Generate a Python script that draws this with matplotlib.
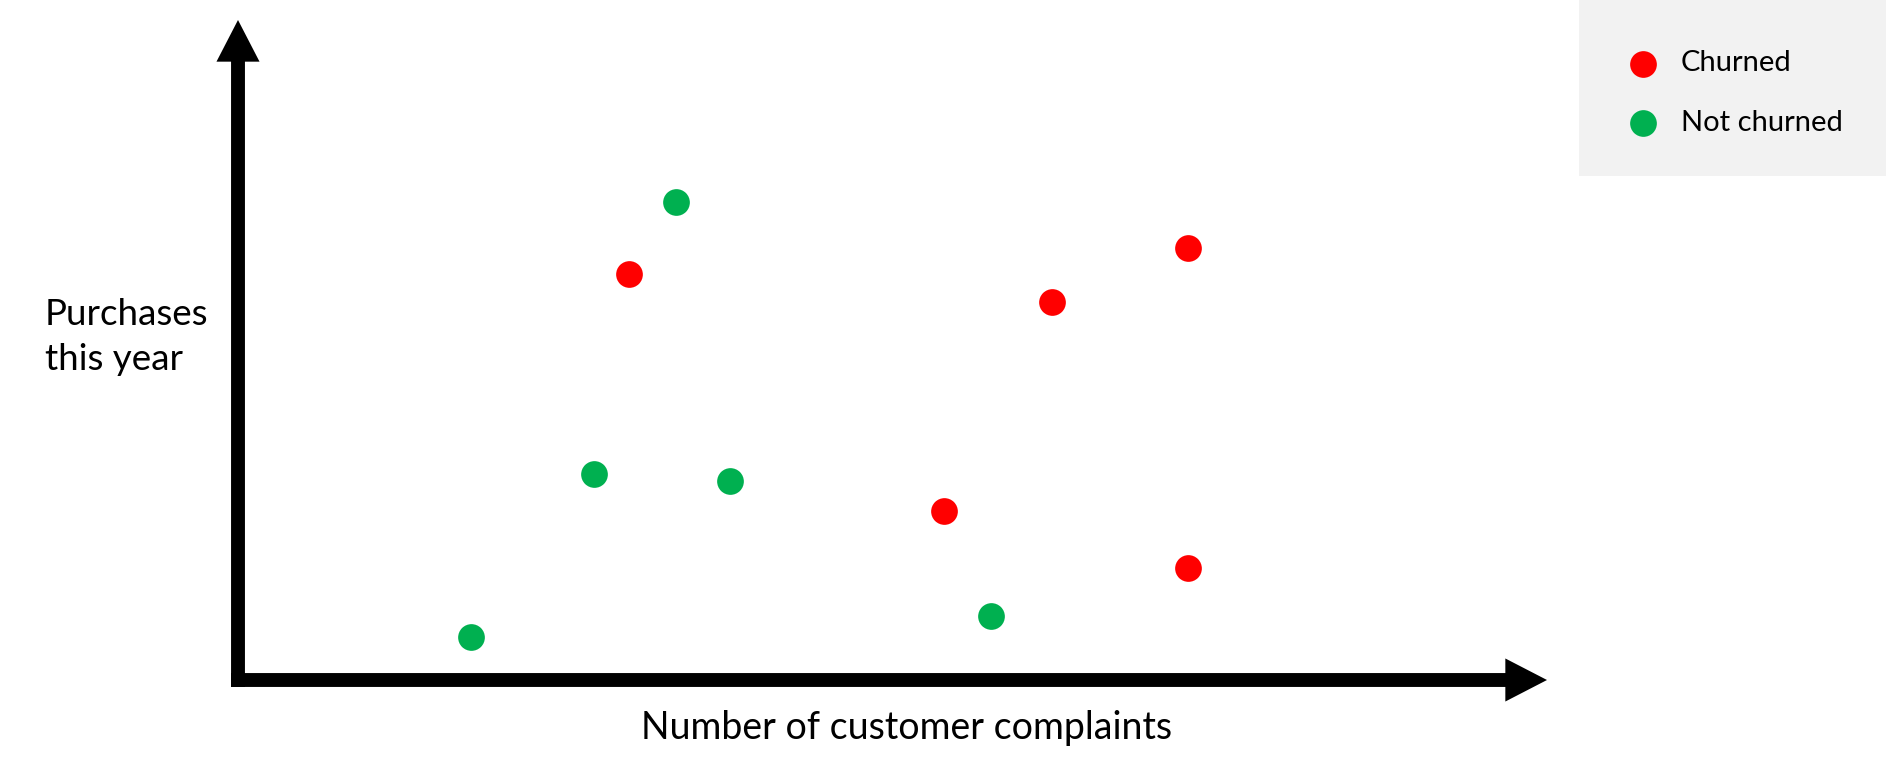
import matplotlib.pyplot as plt
from matplotlib.patches import Rectangle

plt.rcParams["font.family"] = ["Lato", "DejaVu Sans"]

# data values (arbitrary units)
churned_x = [3.91, 8.14, 9.50, 7.06, 9.50]
churned_y = [4.06, 3.78, 4.32, 1.69, 1.12]
not_churned_x = [4.38, 3.56, 4.92, 2.33, 7.53]
not_churned_y = [4.78, 2.06, 1.99, 0.43, 0.64]

RED = "#FF0000"
GREEN = "#00B050"

W, H = 1886, 771
fig = plt.figure(figsize=(W / 100, H / 100), dpi=100)

# axes spans from the origin corner to the arrow tips (pixel layout)
x0, y0 = 238, 680
x_tip, y_tip = 1547, 20
ax = fig.add_axes([x0 / W, (H - y0) / H, (x_tip - x0) / W, (y0 - y_tip) / H])
ax.set_xlim(0, 13.09)
ax.set_ylim(0, 6.6)
ax.axis("off")

ax.scatter(churned_x, churned_y, s=370, color=RED, lw=0, label="Churned", zorder=3)
ax.scatter(not_churned_x, not_churned_y, s=370, color=GREEN, lw=0, label="Not churned", zorder=3)

# axis arrows
arrow = dict(arrowstyle="simple,head_length=3.0,head_width=3.1,tail_width=1.0",
             mutation_scale=10, fc="black", ec="none", lw=0, shrinkA=0, shrinkB=0)
half = 7
ax.annotate("", xy=(1, 0), xytext=(-half / (x_tip - x0), 0), xycoords="axes fraction",
            arrowprops=arrow, annotation_clip=False)
ax.annotate("", xy=(0, 1), xytext=(0, -half / (y0 - y_tip)), xycoords="axes fraction",
            arrowprops=arrow, annotation_clip=False)

fig.text(45 / W, 1 - 337 / H, "Purchases\nthis year", fontsize=26.5, ha="left", va="center",
         linespacing=1.45)
fig.text(907 / W, 1 - 728 / H, "Number of customer complaints", fontsize=27,
         ha="center", va="center")

# legend panel
fig.patches.append(Rectangle((1579 / W, 1 - 176 / H), (W - 1579) / W, 176 / H,
                             transform=fig.transFigure, facecolor="#F2F2F2",
                             edgecolor="none", zorder=0))
fig.legend(loc="center left", bbox_to_anchor=(1608 / W, 1 - 93 / H), frameon=False,
           fontsize=21, handletextpad=0.6, labelspacing=1.14, markerscale=1.0,
           borderpad=0, handlelength=1.4)

fig.savefig("out.png", dpi=100)
